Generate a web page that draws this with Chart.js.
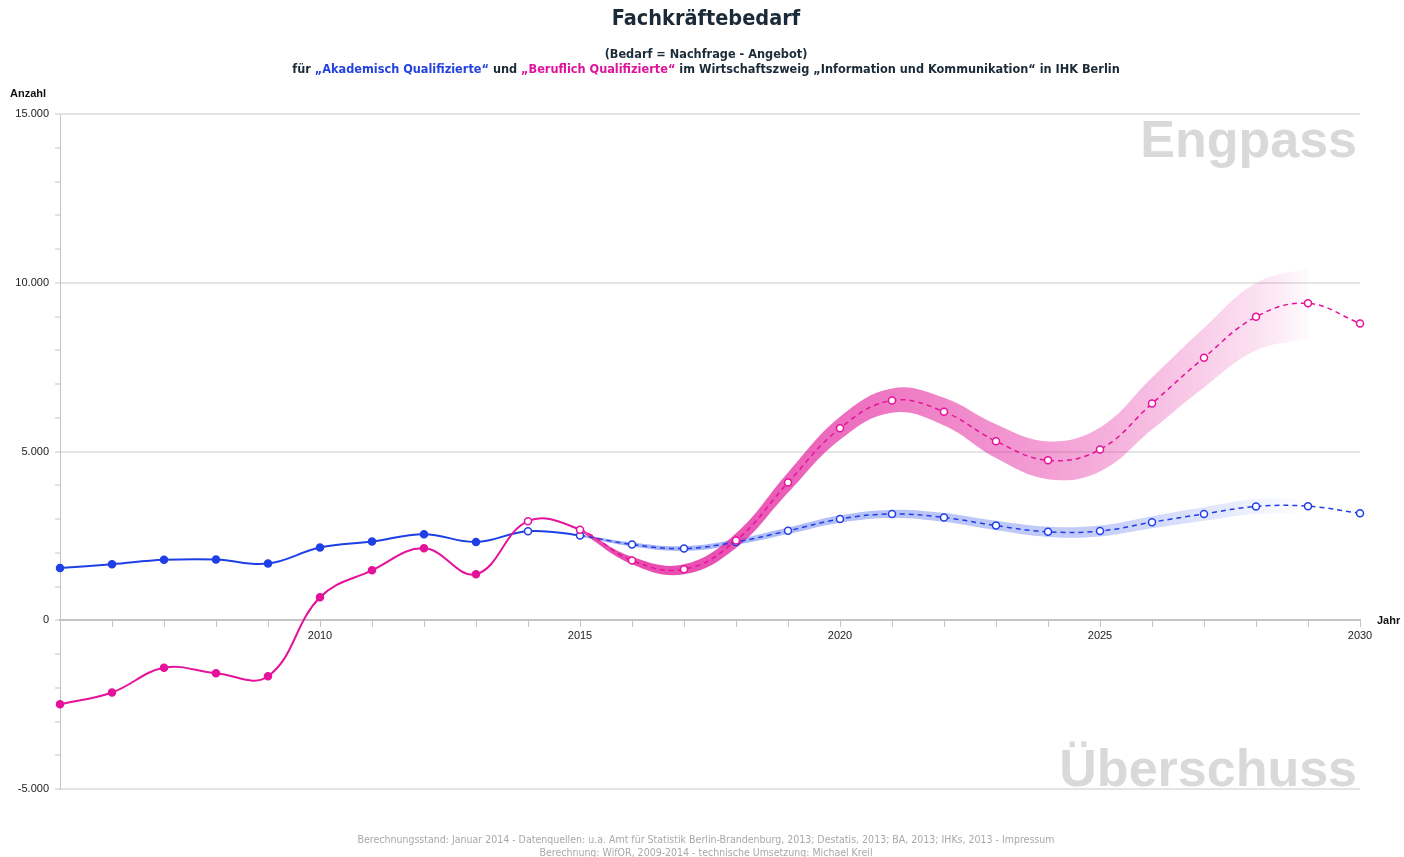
<!DOCTYPE html>
<html lang="de">
<head>
<meta charset="utf-8">
<title>Fachkräftebedarf</title>
<script src="https://cdn.jsdelivr.net/npm/chart.js@4.4.1/dist/chart.umd.min.js"></script>
<style>
  html, body { margin: 0; padding: 0; background: #fff; }
  #wrap { position: relative; width: 1404px; height: 857px; overflow: hidden;
          font-family: "DejaVu Sans Condensed", "DejaVu Sans", sans-serif; }
  #chart { position: absolute; left: 0; top: 0; }
  .txt { position: absolute; white-space: nowrap; }
  #title { left: 0; width: 1412px; top: 6px; text-align: center; font-size: 21.5px;
           font-weight: bold; color: #1b2a38; line-height: 24px; }
  #sub1, #sub2 { left: 0; width: 1412px; text-align: center; font-size: 12.6px;
                 font-weight: bold; color: #1b2a38; line-height: 15px; }
  #sub1 { top: 46px; }
  #sub2 { top: 61px; }
  .blue { color: #2342e0; }
  .pink { color: #e0129a; }
  .axisTitle { font-family: "Liberation Sans", Arial, sans-serif; font-size: 11px;
               font-weight: bold; color: #111; line-height: 13px; }
  #anzahl { left: 10px; top: 87px; }
  #jahr { left: 1377px; top: 614px; }
  #foot1, #foot2 { left: 0; width: 1412px; text-align: center; font-size: 10.5px;
                   color: #a8a8a8; line-height: 13px; }
  #foot1 { top: 833px; }
  #foot2 { top: 846px; }
  u { text-decoration: underline; }
</style>
</head>
<body>
<div id="wrap">
  <canvas id="chart" width="1404" height="857"></canvas>
  <div class="txt" id="title">Fachkräftebedarf</div>
  <div class="txt" id="sub1">(Bedarf = Nachfrage - Angebot)</div>
  <div class="txt" id="sub2">für <span class="blue">„Akademisch Qualifizierte“</span> und <span class="pink">„Beruflich Qualifizierte“</span> im Wirtschaftszweig „Information und Kommunikation“ in IHK Berlin</div>
  <div class="txt axisTitle" id="anzahl">Anzahl</div>
  <div class="txt axisTitle" id="jahr">Jahr</div>
  <div class="txt" id="foot1">Berechnungsstand: Januar 2014 - Datenquellen: u.a. Amt für Statistik Berlin-Brandenburg, 2013; Destatis, 2013; BA, 2013; IHKs, 2013 - Impressum</div>
  <div class="txt" id="foot2">Berechnung: <u>WifOR</u>, 2009-2014 - technische Umsetzung: <u>Michael Kreil</u></div>
</div>
<script>
// Daten
const years = [2005, 2006, 2007, 2008, 2009, 2010, 2011, 2012, 2013, 2014, 2015, 2016, 2017,
               2018, 2019, 2020, 2021, 2022, 2023, 2024, 2025, 2026, 2027, 2028, 2029, 2030];
const akademisch = [1550, 1660, 1790, 1800, 1680, 2155, 2330, 2550, 2320, 2640, 2510, 2245, 2125,
                    2320, 2650, 3000, 3150, 3045, 2805, 2620, 2645, 2905, 3150, 3370, 3380, 3170];
const beruflich = [-2490, -2140, -1410, -1570, -1660, 680, 1480, 2130, 1365, 2935, 2685, 1770, 1510,
                   2360, 4080, 5690, 6510, 6180, 5305, 4740, 5060, 6420, 7780, 8990, 9390, 8795];

// Unsicherheitsband (Prognose)
const bandYears = [2015, 2016, 2017, 2018, 2019, 2020, 2021, 2022, 2023, 2024, 2025, 2026, 2027, 2028, 2029];
const pinkUpper = [2735, 1880, 1660, 2580, 4380, 6030, 6870, 6590, 5805, 5300, 5710, 7190, 8660, 9990, 10440];
const pinkLower = [2635, 1660, 1360, 2140, 3780, 5350, 6150, 5770, 4805, 4180, 4410, 5650, 6900, 7990, 8340];
const blueUpper = [2540, 2305, 2195, 2400, 2745, 3110, 3270, 3175, 2945, 2770, 2805, 3085, 3350, 3590, 3610];
const blueLower = [2480, 2185, 2055, 2240, 2555, 2890, 3030, 2915, 2665, 2470, 2485, 2725, 2950, 3150, 3150];

const forecastFrom = 2014;   // ab hier offene Punkte
const dashedFrom = 2015;     // ab hier gestrichelte Linie

const BLUE = '#1f3fe6';
const PINK = '#e5129a';

function lineDataset(label, values, color) {
  return {
    label: label,
    data: years.map((y, i) => ({ x: y, y: values[i] })),
    borderColor: color,
    borderWidth: 2,
    tension: 0.4,
    fill: false,
    clip: false,
    pointRadius: 3.5,
    pointBorderWidth: 1.5,
    pointBorderColor: color,
    pointBackgroundColor: years.map(y => y >= forecastFrom ? '#fff' : color),
    segment: {
      borderDash: c => c.p0.parsed.x >= dashedFrom ? [5, 4] : undefined,
      borderWidth: c => c.p0.parsed.x >= dashedFrom ? 1.5 : 2
    }
  };
}

// horizontaler Verlauf, der zum Ende hin ausblendet
function bandGradient(rgb, stops) {
  return function(context) {
    const chart = context.chart;
    if (!chart.chartArea) return null;
    const x = chart.scales.x;
    const x0 = x.getPixelForValue(bandYears[0]);
    const x1 = x.getPixelForValue(bandYears[bandYears.length - 1]);
    const g = chart.ctx.createLinearGradient(x0, 0, x1, 0);
    stops.forEach(s => g.addColorStop(s[0], 'rgba(' + rgb + ',' + s[1] + ')'));
    return g;
  };
}

function bandDataset(values, fill, bg) {
  return {
    data: bandYears.map((y, i) => ({ x: y, y: values[i] })),
    borderWidth: 0,
    pointRadius: 0,
    tension: 0.4,
    fill: fill,
    backgroundColor: bg
  };
}

const pinkBg = bandGradient('228,40,160', [[0, 0.85], [0.21, 0.8], [0.43, 0.62], [0.64, 0.45], [0.79, 0.3], [0.93, 0.14], [1, 0.02]]);
const blueBg = bandGradient('60,90,235', [[0, 0.5], [0.29, 0.4], [0.5, 0.35], [0.71, 0.3], [0.86, 0.16], [1, 0.0]]);

// Wasserzeichen "Engpass" / "Überschuss"
const watermarks = {
  id: 'watermarks',
  beforeDatasetsDraw(chart) {
    const { ctx, chartArea } = chart;
    ctx.save();
    ctx.font = 'bold 52px "Liberation Sans", Arial, sans-serif';
    ctx.fillStyle = '#d9d9d9';
    ctx.textAlign = 'right';
    ctx.textBaseline = 'alphabetic';
    ctx.fillText('Engpass', chartArea.right - 3, chartArea.top + 43);
    ctx.fillText('Überschuss', chartArea.right - 3, chartArea.bottom - 3);
    ctx.restore();
  }
};

function formatDE(v) {
  return String(v).replace(/\B(?=(\d{3})+(?!\d))/g, '.');
}

const ctx = document.getElementById('chart').getContext('2d');
const chart = new Chart(ctx, {
  type: 'line',
  data: {
    datasets: [
      lineDataset('Beruflich Qualifizierte', beruflich, PINK),
      lineDataset('Akademisch Qualifizierte', akademisch, BLUE),
      bandDataset(pinkUpper, false, 'transparent'),
      bandDataset(pinkLower, '-1', pinkBg),
      bandDataset(blueUpper, false, 'transparent'),
      bandDataset(blueLower, '-1', blueBg)
    ]
  },
  options: {
    responsive: false,
    animation: false,
    layout: { padding: { top: 114, right: 44, bottom: 68, left: 0 } },
    plugins: {
      legend: { display: false },
      tooltip: { enabled: false }
    },
    scales: {
      x: {
        type: 'linear',
        min: 2005,
        max: 2030,
        position: { y: 0 },
        ticks: {
          stepSize: 1,
          autoSkip: false,
          maxRotation: 0,
          padding: 3,
          color: '#222',
          font: { family: '"Liberation Sans", Arial, sans-serif', size: 11 },
          callback: v => (v % 5 === 0 && v !== 2005) ? String(v) : ''
        },
        grid: { drawOnChartArea: false, drawTicks: true, tickLength: 6, tickColor: '#c4c4c4', tickWidth: 1 },
        border: { color: '#c4c4c4', width: 2 }
      },
      y: {
        min: -5000,
        max: 15000,
        ticks: {
          stepSize: 1000,
          autoSkip: false,
          padding: 6,
          color: '#222',
          font: { family: '"Liberation Sans", Arial, sans-serif', size: 11 },
          callback: v => v % 5000 === 0 ? formatDE(v) : ''
        },
        grid: {
          color: c => (c.tick && c.tick.value % 5000 === 0 && c.tick.value !== 0) ? '#e4e4e4' : 'rgba(0,0,0,0)',
          lineWidth: 2,
          tickLength: 5,
          tickColor: '#c4c4c4',
          tickWidth: 1
        },
        border: { color: '#c4c4c4', width: 1 },
        afterFit: s => { s.width = 60; }
      }
    }
  },
  plugins: [watermarks]
});
</script>
</body>
</html>
